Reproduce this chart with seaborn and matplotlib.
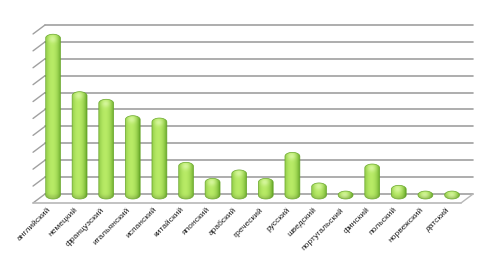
import numpy as np
import pandas as pd
import matplotlib
matplotlib.use("Agg")
import matplotlib.pyplot as plt
import seaborn as sns
from matplotlib.patches import PathPatch
from matplotlib.path import Path

languages = ["английский", "немецкий", "французский", "итальянский", "испанский",
             "китайский", "японский", "арабский", "греческий", "русский",
             "шведский", "португальский", "финский", "польский", "норвежский", "датский"]
values = [9.75, 6.35, 5.9, 4.93, 4.79, 2.17, 1.22, 1.72, 1.22, 2.76,
          0.95, 0.47, 2.07, 0.81, 0.47, 0.47]
grid_levels = list(range(0, 11))

sns.set_theme(style="white")
plt.rcParams['font.family'] = ['Liberation Sans', 'DejaVu Sans']

fig = plt.figure(figsize=(4.88, 2.66), dpi=100)
ax = fig.add_axes([0, 0, 1, 1])
df = pd.DataFrame({"lang": languages, "val": values})
sns.barplot(data=df, x="lang", y="val", ax=ax, width=0.56, color="#8cc63f", zorder=3)

ax.set_xlim(-1.992, 16.353)
ax.set_ylim(-4.26, 11.479)
ax.axis("off")

# perspective geometry (styling)
back_x0, back_x1 = -0.30, 15.79
dx_side, dy_side = -0.45, -0.53
grid_col = "#a0a0a0"
for k in grid_levels:
    ax.plot([back_x0, back_x1], [k, k], color=grid_col, lw=1.2, zorder=1)
    ax.plot([back_x0, back_x0 + dx_side], [k, k + dy_side], color=grid_col, lw=1.0, zorder=1)
# floor
ax.plot([back_x0 + dx_side, back_x1 + dx_side], [dy_side, dy_side], color="#b8b8b8", lw=1.2, zorder=1)
ax.plot([back_x1, back_x1 + dx_side], [0, dy_side], color="#b8b8b8", lw=1.0, zorder=1)

# cylinder-like bars built from the seaborn bar patches
shift = -0.296
px_per_y = 16.9
ry = 4.0 / px_per_y
nx, ny = 40, 80
u = np.linspace(0, 1, nx)
light = np.array([0.72, 0.92, 0.40])
dark = np.array([0.38, 0.64, 0.14])
wx = np.clip(1 - ((u - 0.42) / 0.58) ** 2, 0, 1) ** 0.8
base = dark[None, :] + (light - dark)[None, :] * wx[:, None]

for p in list(ax.patches):
    x0 = p.get_x()
    bw = p.get_width()
    h = p.get_height()
    p.set_visible(False)
    y0 = shift
    y1 = h + shift
    rx = bw / 2
    r = min(ry, (y1 - y0) / 2)
    cx = x0 + rx
    th_top = np.linspace(0, np.pi, 30)
    th_bot = np.linspace(np.pi, 2 * np.pi, 30)
    top = np.column_stack([cx + rx * np.cos(th_top), (y1 - r) + r * np.sin(th_top)])
    bot = np.column_stack([cx + rx * np.cos(th_bot), (y0 + r) + r * np.sin(th_bot)])
    verts = np.vstack([bot, top])
    path = Path(np.vstack([verts, verts[:1]]), closed=True)
    clip = PathPatch(path, transform=ax.transData, facecolor="none", edgecolor="none")
    ax.add_patch(clip)
    # vertical highlight near the top cap (in pixel distance from top)
    hp = (y1 - y0) * px_per_y
    yy = np.linspace(hp, 0, ny)  # image row 0 = top
    dist_top = yy[::-1] * 0 + (hp - np.linspace(hp, 0, ny))  # distance from top in px
    dist_top = np.linspace(0, hp, ny)
    hv = np.exp(-((dist_top - 4.0) / 3.5) ** 2)
    hx = np.exp(-((u - 0.45) / 0.28) ** 2)
    hl = 0.55 * hv[:, None] * hx[None, :]
    img = base[None, :, :] * (1 - hl[:, :, None]) + np.array([0.93, 1.0, 0.78])[None, None, :] * hl[:, :, None]
    # slight darkening at the very bottom
    db = np.exp(-(((hp - dist_top)) / 3.0) ** 2) * 0.15
    img = img * (1 - db[:, None, None])
    im = ax.imshow(np.clip(img, 0, 1), extent=(x0, x0 + bw, y0, y1), aspect="auto", zorder=3,
                   interpolation="bilinear")
    im.set_clip_path(clip)
    edge = PathPatch(path, transform=ax.transData, facecolor="none",
                     edgecolor="#6aa82c", lw=0.5, zorder=4)
    ax.add_patch(edge)

# labels
for i, lab in enumerate(languages):
    ax.text(i - 0.22, -0.72, lab, rotation=45, rotation_mode="anchor",
            ha="right", va="top", fontsize=6, color="#222222")

fig.savefig("out.png", dpi=100)
